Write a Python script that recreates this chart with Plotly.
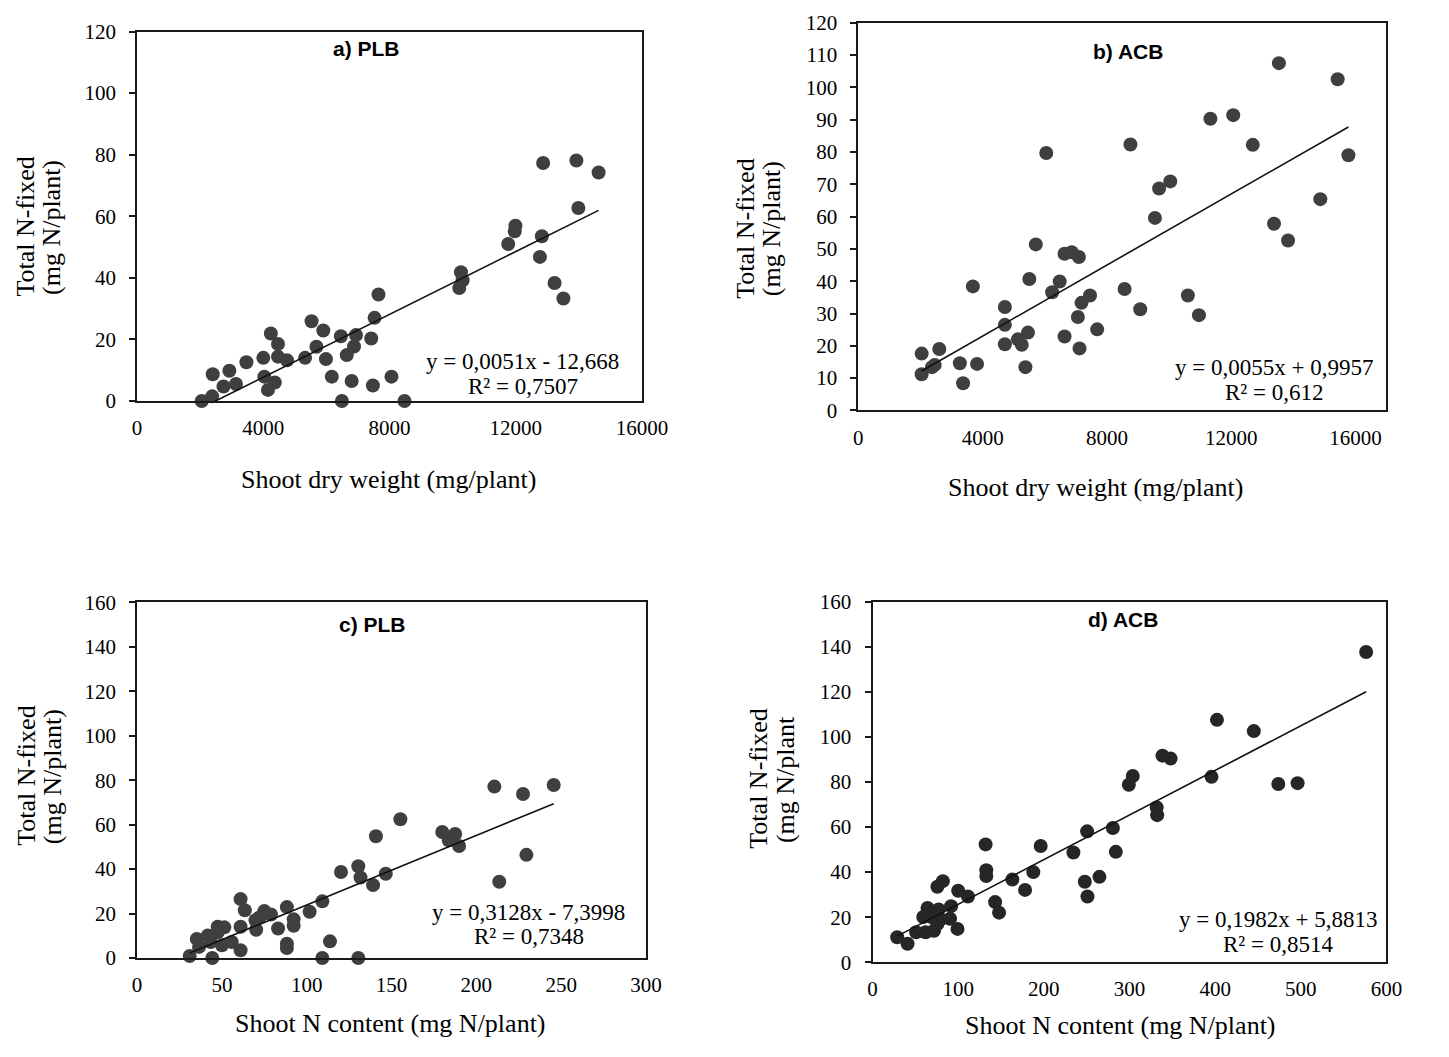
import plotly.graph_objects as go

# ---------------- data ----------------
# a) PLB : shoot dry weight (mg/plant) vs total N-fixed (mg N/plant)
a_x = [2046, 2378, 2396, 2737, 2923, 3131, 3463, 3999, 4030, 4145, 4362, 4238, 4464, 4464,
       4752, 5323, 5527, 5682, 5899, 5983, 6169, 6457, 6488, 6643, 6798, 6873, 6935, 7418,
       7471, 7524, 7648, 8060, 8472,
       12865, 13919, 14623, 13981, 11988, 11966, 11758, 12825, 12763, 10261, 10314, 10208,
       13228, 13507]
a_y = [0, 1.5, 8.7, 4.7, 9.8, 5.5, 12.6, 14.0, 7.9, 3.6, 6.0, 21.9, 18.5, 14.4,
       13.2, 14.0, 25.9, 17.6, 22.9, 13.6, 7.9, 21.0, 0, 14.9, 6.5, 17.7, 21.4, 20.3,
       5.0, 27.0, 34.6, 7.9, 0,
       77.3, 78.1, 74.2, 62.7, 56.9, 55.1, 51.0, 53.5, 46.8, 41.8, 39.2, 36.7,
       38.3, 33.3]

# b) ACB : shoot dry weight vs total N-fixed
b_x = [6048, 8757, 5711, 6637, 6867, 7097, 3686, 5503, 6480, 6237, 8568, 7456, 7182, 9072,
       4716, 4716, 7065, 7686, 6637, 5459, 5135, 5260, 4716, 7119, 5377, 2038, 2605, 2457,
       2372, 2038, 3267, 3821, 3371,
       13536, 15426, 11331, 12065, 12695, 15772, 10039, 9680, 9545, 14868, 13378, 13829,
       10606, 10962]
b_y = [79.7, 82.3, 51.4, 48.5, 49.0, 47.5, 38.4, 40.7, 39.9, 36.6, 37.6, 35.6, 33.3, 31.3,
       32.0, 26.5, 28.9, 25.1, 22.9, 24.1, 22.0, 20.3, 20.5, 19.2, 13.4, 17.6, 19.0, 14.1,
       13.4, 11.2, 14.6, 14.4, 8.4,
       107.5, 102.5, 90.3, 91.4, 82.2, 79.0, 70.9, 68.7, 59.6, 65.4, 57.8, 52.6,
       35.6, 29.5]

# c) PLB : shoot N content (mg N/plant) vs total N-fixed
c_x = [31.0, 44.3, 35.2, 36.5, 41.7, 43.3, 47.5, 51.4, 47.5, 50.0, 55.8, 61.0, 61.0, 63.5,
       61.0, 69.8, 70.2, 75.0, 78.9, 72.1, 83.1, 88.3, 88.3, 88.3, 92.3, 92.3, 101.7, 109.2,
       109.2, 113.7, 120.2,
       210.6, 227.5, 245.6, 155.2, 140.8, 179.9, 187.5, 183.7, 189.8, 229.5, 213.5, 130.4,
       131.7, 139.1, 146.6, 130.4]
c_y = [0.9, 0, 8.6, 5.0, 10.1, 7.2, 14.1, 13.8, 11.6, 5.7, 7.2, 3.5, 26.5, 21.5,
       14.1, 17.0, 12.7, 21.1, 19.6, 18.2, 13.3, 22.9, 6.4, 4.5, 17.4, 14.5, 20.8, 25.5,
       0, 7.5, 38.7,
       77.1, 73.8, 77.8, 62.4, 54.8, 56.7, 55.8, 53.0, 50.4, 46.4, 34.3, 41.3,
       36.2, 32.8, 37.9, 0]

# d) ACB : shoot N content vs total N-fixed
d_x = [28.8, 40.9, 50.9, 61.9, 71.8, 59.2, 64.2, 68.8, 77.1, 79.4, 75.7, 90.5, 91.7, 99.2,
       75.7, 82.1, 100.0, 111.4, 132.0, 132.8, 132.8, 143.1, 147.7, 163.2, 178.1, 187.7,
       196.3, 234.5, 250.5, 247.8, 250.9, 264.9,
       576.2, 402.1, 445.1, 338.5, 348.0, 395.7, 303.8, 299.2, 473.7, 496.2, 331.7, 332.3,
       280.6, 284.0]
d_y = [11.1, 8.2, 13.3, 13.3, 14.0, 20.1, 24.1, 20.1, 23.4, 19.1, 16.9, 19.3, 24.9, 14.8,
       33.5, 36.0, 31.7, 29.2, 52.3, 40.8, 38.3, 26.7, 22.0, 36.7, 32.1, 40.0,
       51.6, 48.7, 58.1, 35.7, 29.2, 37.9,
       137.7, 107.6, 102.6, 91.7, 90.4, 82.3, 82.7, 78.8, 79.1, 79.5, 68.7, 65.3,
       59.6, 49.0]

panel_titles = ["a) PLB", "b) ACB", "c) PLB", "d) ACB"]
slopes = [0.0051, 0.0055, 0.3128, 0.1982]
intercepts = [-12.668, 0.9957, -7.3998, 5.8813]
equations = ["y = 0,0051x - 12,668", "y = 0,0055x + 0,9957",
             "y = 0,3128x - 7,3998", "y = 0,1982x + 5,8813"]
r2_labels = ["R² = 0,7507", "R² = 0,612", "R² = 0,7348", "R² = 0,8514"]
x_titles = ["Shoot dry weight (mg/plant)", "Shoot dry weight (mg/plant)",
            "Shoot N content (mg N/plant)", "Shoot N content (mg N/plant)"]
y_titles_1 = ["Total N-fixed"] * 4
y_titles_2 = ["(mg N/plant)", "(mg N/plant)", "(mg N/plant)", "(mg N/plant"]

# ---------------- layout geometry (pixels) ----------------
W, H = 1449, 1057
# plot boxes: left, right, top, bottom
boxes = [(135, 651, 20, 398), (872, 1411, 11, 407.7),
         (135, 655, 604, 968), (886.5, 1411.7, 603.5, 972.3)]
x_ranges = [[0, 16000], [0, 16976], [0, 300], [0, 600]]
y_ranges = [[0, 120], [0, 120], [0, 160], [0, 160]]
x_dticks = [4000, 4000, 50, 100]
y_dticks = [20, 10, 20, 20]
marker_colors = ["#3f3f3f", "#3f3f3f", "#3f3f3f", "#262626"]

title_pos = [(369, 37), (1148, 40), (376, 627), (1142, 622)]
eq_pos = [(529, 358), (1297, 364), (535, 921), (1301, 929)]
xt_pos = [(392, 478), (1114, 487), (394, 1035), (1140, 1037)]
yt_pos = [(20, 47, 220), (757, 784, 222), (22, 48, 782), (770, 797, 785)]

SERIF = "Liberation Serif, Times New Roman, serif"
SANS = "Liberation Sans, Arial, sans-serif"


def px(x):
    return x / W


def py(y):
    return 1 - y / H


def ann(text, x, y, size, family=SERIF, angle=0):
    return dict(text=text, xref="paper", yref="paper", x=px(x), y=py(y),
                xanchor="center", yanchor="middle", showarrow=False, textangle=angle,
                font=dict(family=family, size=size, color="#000"))


fig = go.Figure()
datasets = [(a_x, a_y), (b_x, b_y), (c_x, c_y), (d_x, d_y)]

annotations = []
for i, (xs, ys) in enumerate(datasets):
    n = "" if i == 0 else str(i + 1)
    xa, ya = "x" + n, "y" + n
    fig.add_trace(go.Scatter(x=xs, y=ys, mode="markers", xaxis=xa, yaxis=ya,
                             marker=dict(size=14, color=marker_colors[i], line=dict(width=0)),
                             cliponaxis=False, showlegend=False))
    x0, x1 = min(xs), max(xs)
    fig.add_trace(go.Scatter(x=[x0, x1],
                             y=[slopes[i] * x0 + intercepts[i], slopes[i] * x1 + intercepts[i]],
                             mode="lines", xaxis=xa, yaxis=ya,
                             line=dict(color="#111111", width=1.6), showlegend=False))
    l, r, t, b = boxes[i]
    axis_common = dict(showline=True, linecolor="#1a1a1a", linewidth=2, mirror=True,
                       showgrid=False, zeroline=False, tickformat="d",
                       tickfont=dict(family=SERIF, size=21, color="#000"))
    fig.layout["xaxis" + n] = dict(axis_common, domain=[px(l), px(r)], range=x_ranges[i],
                                   dtick=x_dticks[i], tick0=0, ticks="",
                                   ticklabelstandoff=7, anchor=ya)
    fig.layout["yaxis" + n] = dict(axis_common, domain=[py(b), py(t)], range=y_ranges[i],
                                   dtick=y_dticks[i], tick0=0, ticks="outside", ticklen=6,
                                   tickwidth=2, tickcolor="#1a1a1a",
                                   ticklabelstandoff=9, anchor=xa)
    annotations.append(ann("<b>" + panel_titles[i] + "</b>", *title_pos[i], 21, SANS))
    ex, ey = eq_pos[i]
    annotations.append(ann(equations[i], ex, ey, 23))
    annotations.append(ann(r2_labels[i], ex, ey + 25, 23))
    annotations.append(ann(x_titles[i], *xt_pos[i], 26))
    x1t, x2t, yc = yt_pos[i]
    annotations.append(ann(y_titles_1[i], x1t, yc, 26, angle=-90))
    annotations.append(ann(y_titles_2[i], x2t, yc, 26, angle=-90))

fig.update_layout(width=W, height=H, margin=dict(l=0, r=0, t=0, b=0),
                  paper_bgcolor="white", plot_bgcolor="white",
                  annotations=annotations)

fig.write_html(
    "out.html",
    config={"displayModeBar": False},
    post_script=("document.body.style.margin='0';"
                 "document.body.style.overflow='hidden';"
                 "document.documentElement.style.overflow='hidden';"),
)
